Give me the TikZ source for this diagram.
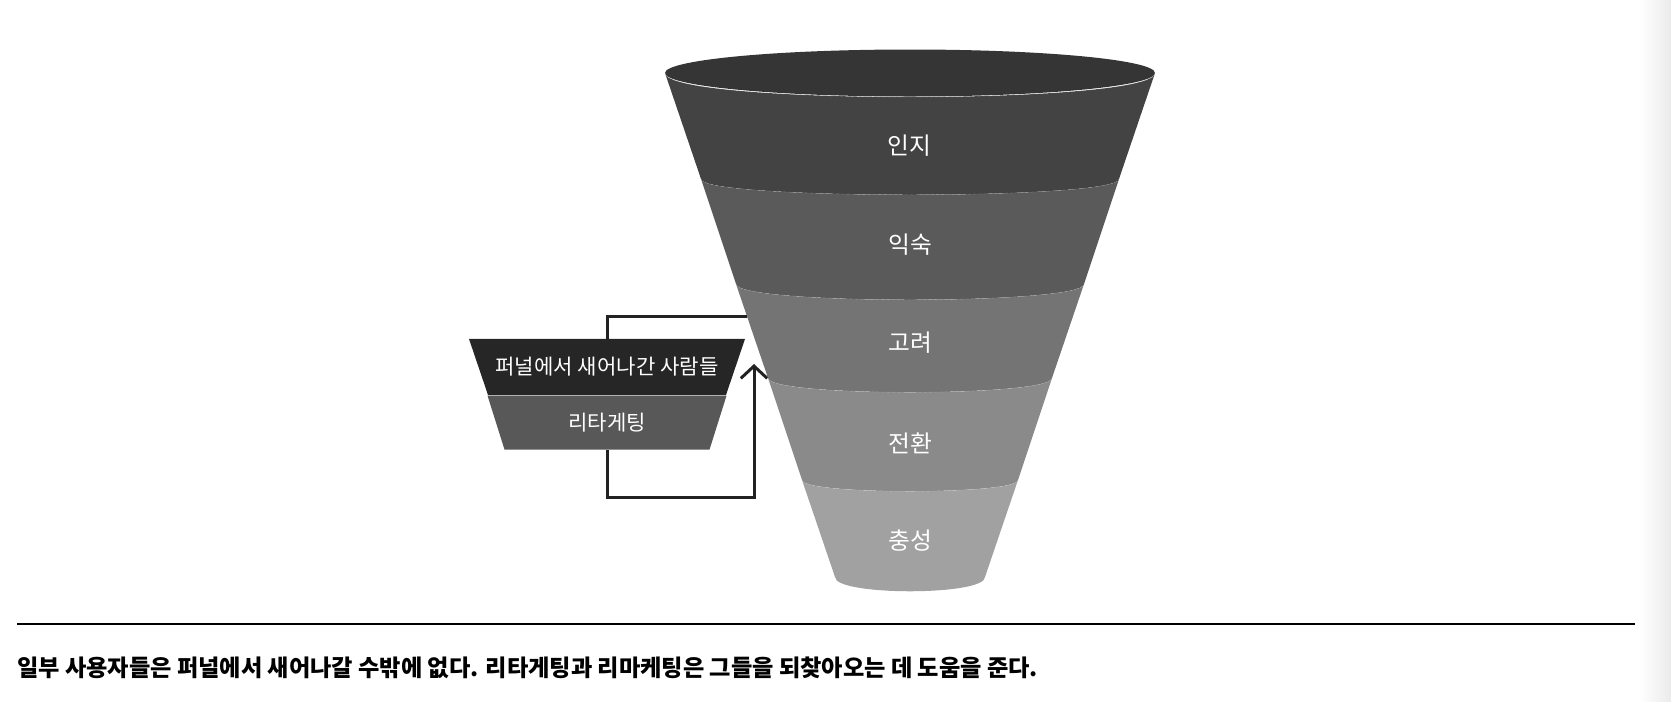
\documentclass[tikz,border=0pt]{standalone}
\usepackage{fontspec}
\newfontfamily\kr{Noto Sans CJK KR}
\usetikzlibrary{positioning,shapes.geometric,arrows.meta}
\definecolor{lid}{HTML}{353535}
\definecolor{bandA}{HTML}{434343}
\definecolor{bandB}{HTML}{5A5A5A}
\definecolor{bandC}{HTML}{747474}
\definecolor{bandD}{HTML}{8A8A8A}
\definecolor{bandE}{HTML}{A1A1A1}
\definecolor{leakfill}{HTML}{262626}
\definecolor{retfill}{HTML}{585858}
\definecolor{wire}{HTML}{222222}

\begin{document}
\begin{tikzpicture}[x=0.02cm,y=-0.02cm,
  stage/.style={text=white, font=\kr\fontsize{13.5}{16}\selectfont, inner sep=0pt},
  box/.style={trapezium, shape border rotate=180, trapezium stretches body, draw=none, inner sep=0pt, text=white, font=\kr\fontsize{12}{14}\selectfont},
  seam/.style={white, opacity=0.3, very thin, dash pattern=on 2pt off 1pt},
  conn/.style={wire, line width=1.7pt}]
\useasboundingbox (0,0) rectangle (1671,701);
\shade[left color=white, right color=black!8] (1640,0) rectangle (1671,701);

\fill[bandA] (665,73) -- (701,179) .. controls (701,200) and (1119,200) .. (1119,179) -- (1155,73) .. controls (1155,105) and (665,105) .. (665,73) -- cycle;
\fill[bandB] (701,179) -- (736,284) .. controls (736,305) and (1084,305) .. (1084,284) -- (1119,179) .. controls (1119,200) and (701,200) .. (701,179) -- cycle;
\fill[bandC] (736,284) -- (768,378) .. controls (768,397) and (1052,397) .. (1052,378) -- (1084,284) .. controls (1084,305) and (736,305) .. (736,284) -- cycle;
\fill[bandD] (768,378) -- (802,480) .. controls (802,495) and (1018,495) .. (1018,480) -- (1052,378) .. controls (1052,397) and (768,397) .. (768,378) -- cycle;
\fill[bandE] (802,480) -- (835,577) .. controls (835,596) and (985,596) .. (985,577) -- (1018,480) .. controls (1018,495) and (802,495) .. (802,480) -- cycle;
\fill[lid] (910,73) ellipse [x radius=245, y radius=23.5];

\draw[seam] (665,73) .. controls (665,105) and (1155,105) .. (1155,73);
\draw[seam] (701,179) .. controls (701,200) and (1119,200) .. (1119,179);
\draw[seam] (736,284) .. controls (736,305) and (1084,305) .. (1084,284);
\draw[seam] (768,378) .. controls (768,397) and (1052,397) .. (1052,378);
\draw[seam] (802,480) .. controls (802,495) and (1018,495) .. (1018,480);

\node[stage] (aware) at (909,146) {인지};
\node[stage] (familiar) at (910,245) {익숙};
\node[stage] (consider) at (910,343) {고려};
\node[stage] (convert) at (910,443) {전환};
\node[stage] (loyal) at (910,541) {충성};

\node[box, fill=leakfill, trapezium angle=71.3, minimum width=5.52cm, text height=20pt, text depth=11.9pt] (leak) at (607,367) {퍼널에서 새어나간 사람들};
\node[box, fill=retfill, trapezium angle=72.5, minimum width=4.78cm, text height=19.5pt, text depth=11.2pt, below=0pt of leak] (retarget) {리타게팅};

\coordinate (rim) at (747,316);
\coordinate (turn) at (754,497);
\coordinate (tip) at (754,364);
\draw[conn] (leak.north) |- (rim);
\draw[conn,-{Straight Barb[length=7pt,width=15pt]}] (retarget.south) |- (turn) -- (tip);

\draw[line width=0.8pt] (17,624) -- (1635,624);
\node[anchor=west, inner sep=0pt, font=\kr\bfseries\fontsize{13.2}{15}\selectfont] (caption) at (17,668) {일부 사용자들은 퍼널에서 새어나갈 수밖에 없다. 리타게팅과 리마케팅은 그들을 되찾아오는 데 도움을 준다.};
\end{tikzpicture}
\end{document}
